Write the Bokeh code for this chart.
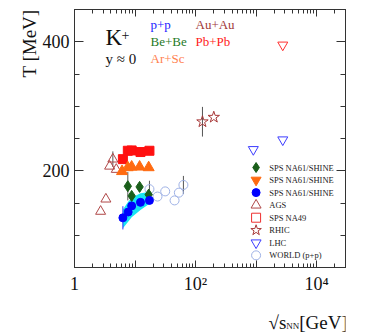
import numpy as np
from bokeh.plotting import figure
from bokeh.layouts import column
from bokeh.models import (LinearAxis, LogAxis, FixedTicker, SingleIntervalTicker,
                          Label, Title, ColumnDataSource, CustomJSTickFormatter, Range1d)
from bokeh.core.properties import value
from bokeh.embed import file_html
from bokeh.resources import INLINE

# ---------------- data ----------------
pbpb_x = [6.3, 7.6, 8.8, 12.3, 17.3]
pbpb_T = [218, 231, 231.5, 229, 231]
pbpb_err = [3, 4, 4, 4, 4]

arsc_x = [6.1, 7.6, 8.8, 11.9, 16.8]
arsc_T = [199, 205, 206, 206, 205]

bebe_x = [7.6, 8.8, 11.9, 16.8]
bebe_T = [176, 161, 175, 163]
bebe_err = [22, 5, 5, 7]

pp_x = [6.3, 7.7, 8.8, 12.3, 17.3]
pp_T = [127, 136, 145.5, 151, 154]
pp_err = [18, 0, 0, 0, 0]
pp_sys_lo = [111, 121, 128, 139, 149]
pp_sys_hi = [140, 152, 158, 165, 167]

ags_x = [2.7, 3.3, 3.8, 4.3, 4.9]
ags_T = [137, 156, 207, 218, 202]
ags_err = [0, 0, 0, 12, 0]

rhic_x = [130, 200]
rhic_T = [276, 283]
rhic_err = [23, 0]

lhc_pp_x = [900, 2760]
lhc_pp_T = [233, 248]
lhc_pbpb_x = [2760]
lhc_pbpb_T = [395]

world_x = [17.3, 23.5, 31.5, 45, 53, 63]
world_T = [171.5, 160, 168, 154, 166, 178]
world_err = [13, 0, 0, 0, 0, 14]

x_major_ticks = [1, 10, 100, 1000, 10000]
x_tick_labels = {1: "1", 10: "", 100: "10\u00b2", 1000: "", 10000: "10\u2074"}

legend_labels = ["SPS NA61/SHINE", "SPS NA61/SHINE", "SPS NA61/SHINE", "AGS",
                 "SPS NA49", "RHIC", "LHC", "WORLD (p+p)"]
legend_markers = ["diamond", "inverted_triangle", "circle", "triangle",
                  "square", "star", "inverted_triangle", "circle"]
legend_line = ["#1a5e1a", "#ff6a10", "#0000ff", "#b04848", "#ee3030", "#a83838", "#3c3cff", "#9fb2e6"]
legend_fill = ["#1a5e1a", "#ff6a10", "#0000ff", None, None, None, None, None]
legend_size = [10, 10, 8, 10, 9, 11, 10, 9]

SERIF = "Liberation Serif"
FIG_W = 357

p = figure(x_axis_type="log", x_range=(1, 3e4), y_range=(50, 450),
           frame_width=271, frame_height=258,
           min_border_left=74, min_border_right=12, min_border_top=9, min_border_bottom=37,
           output_backend="svg", toolbar_location=None)
p.background_fill_color = "white"
p.border_fill_color = "white"
p.outline_line_color = "#333333"
p.xgrid.visible = False
p.ygrid.visible = False

xticker = FixedTicker(ticks=x_major_ticks,
                      minor_ticks=[m * 10 ** k for k in range(0, 5) for m in range(2, 10)])
yticker = SingleIntervalTicker(interval=200, num_minor_ticks=4)

def style_axis(ax, major_in, minor_in):
    ax.major_tick_in = major_in
    ax.major_tick_out = 0
    ax.minor_tick_in = minor_in
    ax.minor_tick_out = 0
    ax.axis_line_color = "#333333"
    ax.major_tick_line_color = "#333333"
    ax.minor_tick_line_color = "#333333"
    ax.major_label_text_font = SERIF
    ax.major_label_text_font_size = "18px"
    ax.major_label_text_color = "#111111"

xa = p.xaxis[0]
xa.ticker = xticker
xa.major_label_overrides = x_tick_labels
style_axis(xa, 7, 4)
xa.major_label_standoff = 6

ya = p.yaxis[0]
ya.ticker = yticker
style_axis(ya, 9, 5)
ya.major_label_standoff = 5

blank = "return ''"
top = LogAxis(ticker=xticker, formatter=CustomJSTickFormatter(code=blank))
style_axis(top, 7, 4)
top.major_label_text_font_size = "1px"
top.major_label_standoff = 0
p.add_layout(top, "above")

right = LinearAxis(ticker=yticker, formatter=CustomJSTickFormatter(code=blank))
style_axis(right, 9, 5)
right.major_label_text_font_size = "1px"
right.major_label_standoff = 0
p.add_layout(right, "right")

# y axis title, at the top end of the left side
p.add_layout(Title(text="T [MeV]", align="right", text_font=SERIF, text_font_size="19px",
                   text_font_style="normal", text_color="#111111", standoff=0), "left")

# ---------------- band & error bars ----------------
p.varea(x=pp_x, y1=pp_sys_lo, y2=pp_sys_hi, fill_color="#18e4f2", fill_alpha=1.0)

def errbars(xs, ys, es, color):
    lo = [y - e for y, e in zip(ys, es)]
    hi = [y + e for y, e in zip(ys, es)]
    p.segment(x0=xs, y0=lo, x1=xs, y1=hi, line_color=color, line_width=1)

errbars(pbpb_x, pbpb_T, pbpb_err, "#555555")
errbars(bebe_x, bebe_T, bebe_err, "#555555")
errbars(ags_x, ags_T, ags_err, "#555555")
errbars(rhic_x, rhic_T, rhic_err, "#555555")
errbars(world_x, world_T, world_err, "#555555")
errbars(pp_x, pp_T, pp_err, "#3030ff")

# ---------------- markers ----------------
p.scatter(ags_x, ags_T, marker="triangle", size=10, fill_color=None, line_color="#b04848", line_width=1)
p.scatter(world_x, world_T, marker="circle", size=9, fill_color=None, line_color="#9fb2e6", line_width=1)
p.scatter(pbpb_x, pbpb_T, marker="square", size=9, fill_color="#ff1010", line_color="#ff1010")
p.scatter(arsc_x, arsc_T, marker="triangle", size=11, fill_color="#ff6a10", line_color="#ff6a10")
p.scatter(bebe_x, bebe_T, marker="diamond", size=11, fill_color="#1a5e1a", line_color="#1a5e1a")
p.scatter(pp_x, pp_T, marker="circle", size=8, fill_color="#0000ff", line_color="#0000ff")
p.scatter(rhic_x, rhic_T, marker="star", size=12, fill_color=None, line_color="#a83838", line_width=1)
p.scatter(lhc_pp_x, lhc_pp_T, marker="inverted_triangle", size=10, fill_color=None, line_color="#3c3cff", line_width=1)
p.scatter(lhc_pbpb_x, lhc_pbpb_T, marker="inverted_triangle", size=10, fill_color=None, line_color="#ff3030", line_width=1)

# ---------------- legend (manual) ----------------
n = len(legend_labels)
leg_y = [205 - 19.45 * i for i in range(n)]
leg_src = ColumnDataSource(dict(x=[1000] * n, y=leg_y, marker=legend_markers,
                                lc=legend_line, fc=[c if c else "white" for c in legend_fill],
                                fa=[1.0 if c else 0.0 for c in legend_fill], size=legend_size,
                                tx=[1650] * n, label=legend_labels))
p.scatter(x="x", y="y", marker="marker", size="size", line_color="lc", fill_color="fc",
          fill_alpha="fa", source=leg_src)
p.text(x="tx", y="y", text="label", source=leg_src, text_font=value(SERIF),
       text_font_size="8.5px", text_baseline="middle", text_color="#222222")

# ---------------- annotations ----------------
def lab(x, y, text, size, color="#111111", **kw):
    p.add_layout(Label(x=x, y=y, x_units="screen", y_units="screen", text=text,
                       text_font=SERIF, text_font_size=size, text_color=color, **kw))

lab(31, 218, "K", "23px")
lab(47, 228, "+", "14px")
lab(31, 201, "y \u2248 0", "15px")
lab(76, 236, "p+p", "13px", "#2222ff")
lab(76, 218.5, "Be+Be", "13px", "#1f7a1f")
lab(76, 201.5, "Ar+Sc", "13px", "#ff7f50")
lab(121, 236, "Au+Au", "13px", "#a03838")
lab(121, 218.5, "Pb+Pb", "13px", "#ff2020")

# ---------------- x axis title strip ----------------
q = figure(width=FIG_W, height=30, x_range=Range1d(0, FIG_W), y_range=Range1d(0, 30),
           x_axis_location=None, y_axis_location=None, min_border=0,
           output_backend="svg", toolbar_location=None)
q.outline_line_color = None
q.xgrid.visible = False
q.ygrid.visible = False
q.text(x=[279], y=[12], text=["\u221as"], text_font=value(SERIF), text_font_size="19px",
       text_align="right", text_baseline="alphabetic", text_color="#111111")
q.text(x=[279], y=[9], text=["NN"], text_font=value(SERIF), text_font_size="9px",
       text_align="left", text_baseline="alphabetic", text_color="#111111")
q.text(x=[296], y=[12], text=["[GeV]"], text_font=value(SERIF), text_font_size="19px",
       text_align="left", text_baseline="alphabetic", text_color="#111111")

layout = column(p, q, spacing=0)
open("out.html", "w").write(file_html(layout, INLINE))
